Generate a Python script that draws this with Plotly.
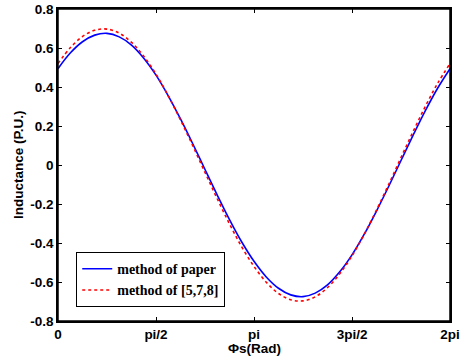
import numpy as np
import plotly.graph_objects as go

# x positions: k*pi/16, k = 0..32
x_vals = [k * np.pi / 16 for k in range(33)]

paper = [0.494, 0.574, 0.632, 0.666, 0.675, 0.657, 0.615, 0.548, 0.461, 0.355,
         0.236, 0.109, -0.023, -0.154, -0.280, -0.395, -0.494, -0.574, -0.632,
         -0.666, -0.675, -0.657, -0.615, -0.548, -0.461, -0.355, -0.236, -0.109,
         0.023, 0.154, 0.280, 0.395, 0.494]

ref578 = [0.520, 0.601, 0.659, 0.691, 0.697, 0.676, 0.629, 0.558, 0.466, 0.355,
          0.231, 0.099, -0.038, -0.173, -0.302, -0.420, -0.520, -0.601, -0.659,
          -0.691, -0.697, -0.676, -0.629, -0.558, -0.466, -0.355, -0.231, -0.099,
          0.038, 0.173, 0.302, 0.420, 0.520]

x_tickvals = [0, np.pi / 2, np.pi, 3 * np.pi / 2, 2 * np.pi]
x_ticktext = ["0", "pi/2", "pi", "3pi/2", "2pi"]
y_tickvals = [-0.8, -0.6, -0.4, -0.2, 0, 0.2, 0.4, 0.6, 0.8]
y_ticktext = ["-0.8", "-0.6", "-0.4", "-0.2", "0", "0.2", "0.4", "0.6", "0.8"]

fig = go.Figure()
fig.add_trace(go.Scatter(x=x_vals, y=paper, mode="lines", name="method of paper",
                         line=dict(color="#0000ff", width=1.6, shape="spline")))
fig.add_trace(go.Scatter(x=x_vals, y=ref578, mode="lines", name="method of [5,7,8]",
                         line=dict(color="#ff0000", width=1.6, dash="dot", shape="spline")))

tickfont = dict(family="Liberation Sans, Arial", size=13.5, color="black", weight="bold")

fig.update_layout(
    width=460, height=360,
    margin=dict(l=58, r=10, t=9, b=39, autoexpand=False),
    paper_bgcolor="white", plot_bgcolor="white",
    showlegend=True,
    legend=dict(x=0.046, y=0.045, xanchor="left", yanchor="bottom",
                bgcolor="white", bordercolor="black", borderwidth=1.2,
                font=dict(family="Liberation Serif, Times New Roman", size=14,
                          color="black", weight="bold"),
                tracegroupgap=0, itemwidth=30),
    xaxis=dict(range=[0, 2 * np.pi], tickvals=x_tickvals, ticktext=x_ticktext,
               showgrid=False, zeroline=False, showline=True, linecolor="black",
               linewidth=1.5, mirror="ticks", ticks="inside", ticklen=4,
               tickcolor="black", tickfont=tickfont, automargin=False,
               ticklabeloverflow="allow"),
    yaxis=dict(range=[-0.8, 0.8], tickvals=y_tickvals, ticktext=y_ticktext,
               showgrid=False, zeroline=False, showline=True, linecolor="black",
               linewidth=1.5, mirror="ticks", ticks="inside", ticklen=4,
               tickcolor="black", tickfont=tickfont, automargin=False,
               ticklabeloverflow="allow"),
    shapes=[dict(type="rect", xref="paper", yref="paper", x0=0, x1=1, y0=0, y1=1,
                 line=dict(color="black", width=1.5), layer="above")],
    annotations=[
        dict(text="<b>Φs(Rad)</b>", xref="paper", yref="paper", x=0.5, y=-0.087,
             xanchor="center", yanchor="middle", showarrow=False,
             font=dict(family="Liberation Sans, Arial", size=13.5, color="black")),
        dict(text="<b>Inductance (P.U.)</b>", xref="paper", yref="paper", x=-0.102, y=0.5,
             xanchor="center", yanchor="middle", textangle=-90, showarrow=False,
             font=dict(family="Liberation Sans, Arial", size=13.5, color="black")),
    ],
)

fig.write_html(
    "out.html",
    config={"displayModeBar": False},
    post_script=("document.body.style.margin='0';"
                 "document.body.style.overflow='hidden';"
                 "document.documentElement.style.overflow='hidden';"),
)
